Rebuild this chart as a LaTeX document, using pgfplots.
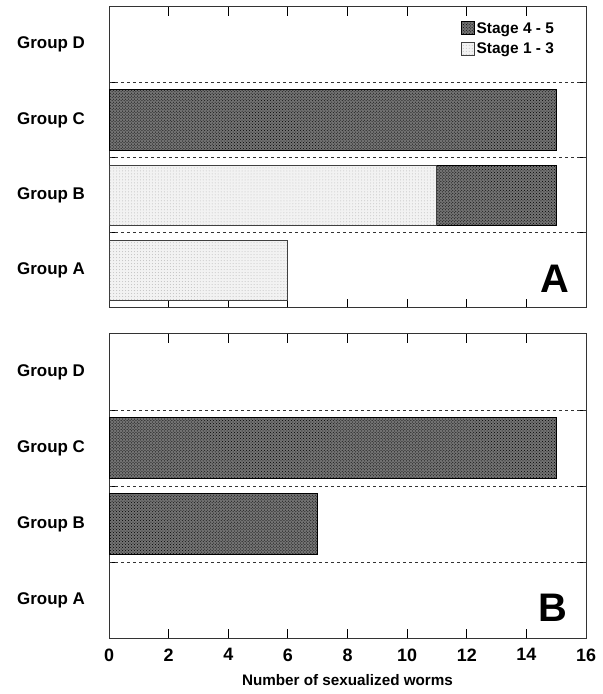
\documentclass[border=0pt]{standalone}
\usepackage{pgfplots}
\pgfplotsset{compat=1.18}
\usetikzlibrary{patterns}
\usepackage{fontspec}
\setmainfont{Liberation Sans}
\definecolor{darkfill}{gray}{0.45}
\definecolor{lightfill}{gray}{0.95}
\pgfplotsset{
  panel/.style={
    scale only axis, width=477bp,
    xmin=0, xmax=16, ymin=0.5, ymax=4.5,
    xbar stacked, bar width=0.8,
    tick align=inside, tick pos=both,
    xtick={0,2,...,16},
    ytick=\empty,
    minor ytick={0.7,0.9,1.1,1.3,1.7,1.9,2.1,2.3,2.7,2.9,3.1,3.3,3.7,3.9,4.1,4.3},
    extra y ticks={1.5,2.5,3.5}, extra y tick labels={},
    major tick length=9bp, minor tick length=5bp,
    axis line style={line width=1bp, black!80},
    every tick/.style={line width=0.9bp, black},
    /pgf/number format/assume math mode=true,
    tick label style={font=\fontsize{18}{21}\selectfont\bfseries},
    xticklabel style={yshift=-7bp},
    clip=false,
  },
}
\tikzset{
  dk/.style={fill=darkfill, draw=black, line width=0.9bp, postaction={pattern=crosshatch dots, pattern color=black}},
  lt/.style={fill=lightfill, draw=black!75, line width=0.9bp, postaction={pattern=dots, pattern color=black!25}},
  gl/.style={anchor=west, inner sep=0pt, font=\fontsize{17}{20}\selectfont\bfseries, xshift=-92bp},
  dl/.style={black!80, line width=0.9bp, dash pattern=on 3bp off 3bp},
}
\newcommand{\grouplabels}{%
  \node[gl] at (axis cs:0,1) {Group A};
  \node[gl] at (axis cs:0,2) {Group B};
  \node[gl] at (axis cs:0,3) {Group C};
  \node[gl] at (axis cs:0,4) {Group D};
  \draw[dl] (axis cs:0,1.5) -- (axis cs:16,1.5);
  \draw[dl] (axis cs:0,2.5) -- (axis cs:16,2.5);
  \draw[dl] (axis cs:0,3.5) -- (axis cs:16,3.5);
}
\begin{document}
\begin{tikzpicture}
\useasboundingbox (0,0) rectangle (603bp,694bp);
% Panel A
\begin{axis}[panel, at={(109bp,687bp)}, anchor=north west, height=301bp,
  xticklabels={},
  reverse legend,
  legend style={at={(rel axis cs:0.735,0.96)}, anchor=north west, draw=none, fill=none,
    font=\fontsize{15.5}{18}\selectfont\bfseries, row sep=4bp, inner sep=1bp},
  legend image code/.code={\draw[#1] (0bp,-6.5bp) rectangle (13bp,6.5bp);},
]
\addplot[lt] coordinates {(6,1) (11,2) (0,3) (0,4)};
\addlegendentry{Stage 1 - 3}
\addplot[dk] coordinates {(0,1) (4,2) (15,3) (0,4)};
\addlegendentry{Stage 4 - 5}
\grouplabels
\node[font=\fontsize{40}{44}\selectfont\bfseries] at (rel axis cs:0.935,0.096) {A};
\end{axis}
% Panel B
\begin{axis}[panel, at={(109bp,360bp)}, anchor=north west, height=304bp,
  xlabel={Number of sexualized worms},
  xlabel style={font=\fontsize{15.3}{18}\selectfont\bfseries, at={(axis description cs:0.5,0)}, anchor=center, yshift=-42bp},
]
\addplot[lt] coordinates {(0,1) (0,2) (0,3) (0,4)};
\addplot[dk] coordinates {(0,1) (7,2) (15,3) (0,4)};
\grouplabels
\node[font=\fontsize{40}{44}\selectfont\bfseries] at (rel axis cs:0.931,0.099) {B};
\end{axis}
\end{tikzpicture}
\end{document}
